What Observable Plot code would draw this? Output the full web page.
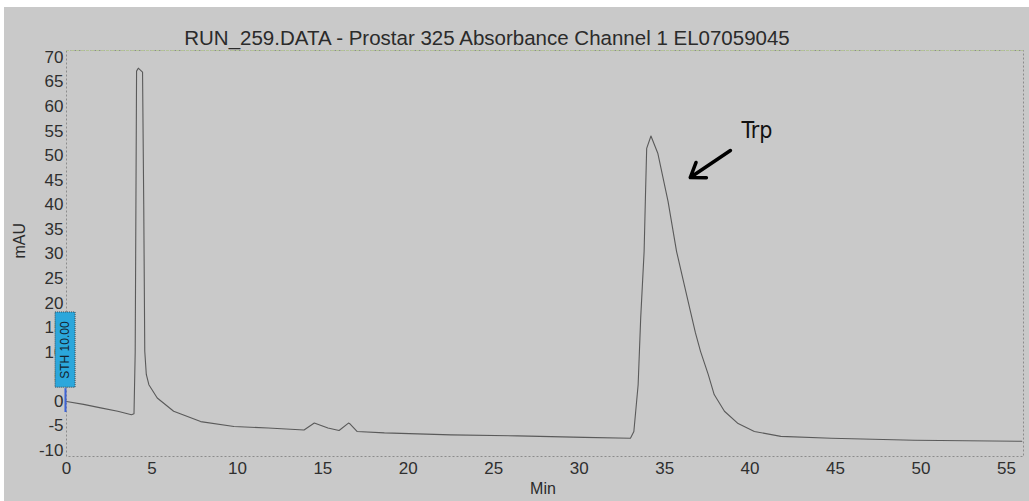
<!DOCTYPE html>
<html>
<head>
<meta charset="utf-8">
<script src="https://cdn.jsdelivr.net/npm/d3@7"></script>
<script src="https://cdn.jsdelivr.net/npm/@observablehq/plot@0.6"></script>
<style>
  html, body { margin: 0; padding: 0; background: #ffffff; }
  #wrap { position: absolute; left: 4px; top: 7px; width: 1025px; height: 494px; background: #c9c9c9; }
  #wrap svg { display: block; }
</style>
</head>
<body>
<div id="wrap"></div>
<script>
// ---- Data ----
const titleText = "RUN_259.DATA - Prostar 325 Absorbance Channel 1 EL07059045";
const xLabel = "Min";
const yLabel = "mAU";
const xTicks = [0, 5, 10, 15, 20, 25, 30, 35, 40, 45, 50, 55];
const yTicks = [70, 65, 60, 55, 50, 45, 40, 35, 30, 25, 20, 15, 10, 5, 0, -5, -10];

// retention time (min)
const timeMin = [
  0, 1, 2, 3, 3.8, 3.95, 4.02, 4.1, 4.2, 4.45, 4.52, 4.58, 4.67, 4.82, 5.31, 6.27, 7.85, 9.8, 11.8, 13.9,
  14.5, 15.3, 15.95, 16.5, 16.6, 17.0, 18.6, 22.5, 26.4, 30.3, 33.0, 33.2, 33.45, 33.6, 33.8, 33.88, 33.95,
  34.2, 34.6, 35.2, 35.7, 36.1, 36.5, 36.8, 37.1, 37.55, 37.9, 38.5, 39.3, 40.25, 41.8, 44.75, 49.6, 55.9
];
// absorbance (mAU)
const absorbance = [
  0, -0.6, -1.3, -2.0, -2.7, -2.5, 10, 67.2, 67.8, 67.0, 40, 10.2, 5.5, 3.4, 0.7, -2.0, -4.1, -5.1, -5.4, -5.8,
  -4.4, -5.4, -5.9, -4.4, -4.6, -6.1, -6.4, -6.8, -7.0, -7.3, -7.5, -6.1, 3.4, 17, 30.5, 42, 51.5,
  54, 50.5, 40.7, 30.5, 24.5, 18.5, 14, 10.2, 5.5, 1.4, -2.0, -4.5, -6.1, -7.1, -7.5, -7.9, -8.1
];

// annotations
const peakLabel = ["Trp"];
const peakLabelX = [40.4];
const peakLabelY = [55.1];
const arrowFrom = [38.85, 51.05];
const arrowTo = [36.5, 45.56];
const markerText = ["STH 10.00"];
const markerBox = {x1: -0.64, x2: 0.53, y1: 2.8, y2: 18.1};
const markerLine = {x: -0.06, y1: -2.25, y2: 2.6};

const trace = timeMin.map((t, i) => ({t, v: absorbance[i]}));

const chart = Plot.plot({
  width: 1025,
  height: 494,
  marginLeft: 62,
  marginRight: 6,
  marginTop: 43,
  marginBottom: 45,
  style: {background: "transparent", fontFamily: "'Liberation Sans', Arial, sans-serif", fontSize: "17px", color: "#333"},
  x: {domain: [0, 56]},
  y: {domain: [-11.2, 71.4]},
  marks: [
    Plot.frame({stroke: "#8c8c8c", strokeDasharray: "2,2"}),
    Plot.ruleY([71.4], {stroke: "#b4c496", strokeDasharray: "3,2"}),
    Plot.axisX({ticks: xTicks, tickSize: 0, tickPadding: 5, label: null, fill: "#2f2f2f"}),
    Plot.axisY({ticks: yTicks, tickSize: 0, tickPadding: 3, label: null, fill: "#2f2f2f", tickFormat: d => String(d)}),
    Plot.line(trace, {x: "t", y: "v", stroke: "#5a5a5a", strokeWidth: 1.1}),
    Plot.rect([markerBox], {x1: "x1", x2: "x2", y1: "y1", y2: "y2", fill: "#2ba7dc", stroke: "#3a4a55", strokeDasharray: "1,1", clip: false}),
    Plot.text(markerText, {x: (markerBox.x1 + markerBox.x2) / 2, y: (markerBox.y1 + markerBox.y2) / 2, text: d => d, rotate: -90, fontSize: 12, fill: "#14232e", clip: false}),
    Plot.ruleX([markerLine], {x: "x", y1: "y1", y2: "y2", stroke: "#3d63d6", strokeWidth: 2, clip: false}),
    Plot.arrow([{x1: arrowFrom[0], y1: arrowFrom[1], x2: arrowTo[0], y2: arrowTo[1]}], {x1: "x1", y1: "y1", x2: "x2", y2: "y2", stroke: "#000", strokeWidth: 3.5, headLength: 12, headAngle: 70}),
    Plot.text(peakLabel, {x: peakLabelX, y: peakLabelY, text: d => d, fontSize: 23, fill: "#111", fontFamily: "'Liberation Sans Narrow', 'DejaVu Sans Condensed', 'Liberation Sans', sans-serif"}),
    Plot.text([titleText], {frameAnchor: "top", dx: -58, dy: -12, text: d => d, fontSize: 20.5, fill: "#2b2b2b", lineAnchor: "middle"}),
    Plot.text([xLabel], {frameAnchor: "bottom", dx: -2, dy: 32, text: d => d, fontSize: 16, fill: "#2b2b2b", lineAnchor: "middle"}),
    Plot.text([yLabel], {frameAnchor: "left", dx: -47, dy: 5, text: d => d, rotate: -90, fontSize: 16, fill: "#2b2b2b", lineAnchor: "middle"})
  ]
});
document.getElementById("wrap").appendChild(chart);
</script>
</body>
</html>
